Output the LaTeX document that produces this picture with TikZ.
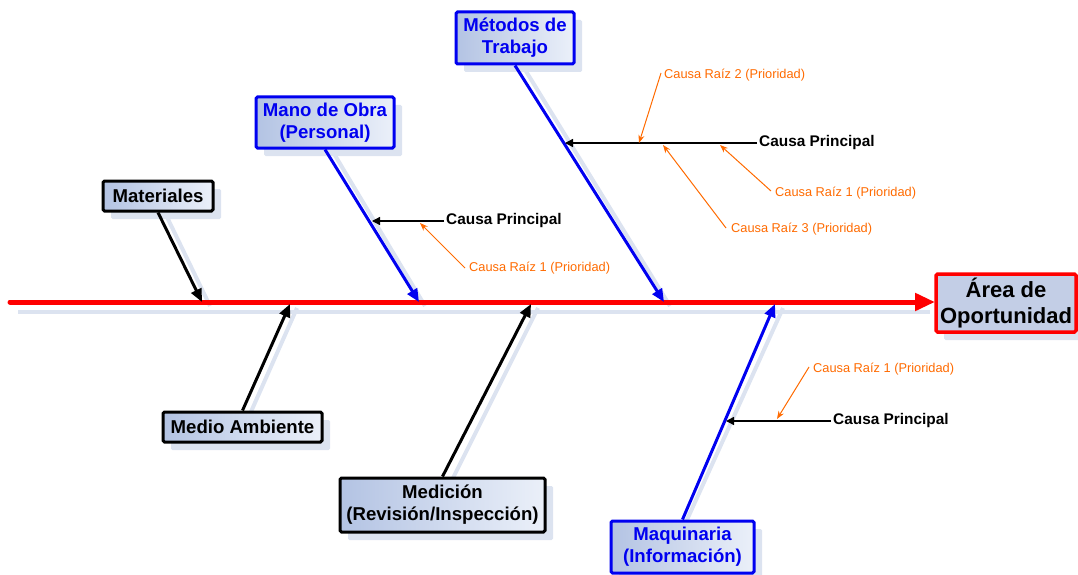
\documentclass[tikz,border=0pt]{standalone}
\usepackage{fontspec}
\setmainfont{Liberation Sans}
\usetikzlibrary{arrows.meta,shadows}
\definecolor{shd}{HTML}{DCE3F0}
\definecolor{boxL}{HTML}{B3C3E3}
\definecolor{boxR}{HTML}{EBF0F9}
\definecolor{areaF}{HTML}{C3CEE6}
\definecolor{org}{HTML}{FF6A00}
\definecolor{bblue}{HTML}{0000F0}
\tikzset{
  catbox/.style={draw, line width=3pt, rounded corners=1.5pt, left color=boxL, right color=boxR,
     font=\bfseries\fontsize{18.6}{22}\selectfont, align=center, inner sep=0pt,
     drop shadow={shadow xshift=8pt, shadow yshift=-8pt, fill=shd, opacity=1}},
  bluebox/.style={catbox, draw=bblue, text=bblue},
  blackbox/.style={catbox, draw=black, text=black},
  bone/.style={line width=3pt, -{Triangle[length=13pt,width=11pt]}},
  boneshd/.style={line width=4pt, draw=shd},
  causa/.style={font=\bfseries\fontsize{15.4}{17}\selectfont, anchor=west, inner sep=2pt},
  causarr/.style={line width=1.3pt, -{Triangle[length=8pt,width=8pt]}},
  raiz/.style={font=\fontsize{12.8}{14}\selectfont, text=org, anchor=west, inner sep=1pt},
  raizarr/.style={draw=org, line width=1pt, -{Stealth[length=8pt,width=6pt]}},
}
\begin{document}
\begin{tikzpicture}[x=1pt,y=-1pt]
\useasboundingbox (0,0) rectangle (1078,575);
% spine coordinates
\coordinate (s0) at (10,302);
\coordinate (sEnd) at (935,302);
\coordinate (s1) at (202,302);
\coordinate (s2) at (419,302);
\coordinate (s3) at (664,302);
\coordinate (s4) at (290,304);
\coordinate (s5) at (531,304);
\coordinate (s6) at (775,304);
% shadows of spine and bones
\draw[boneshd] (18,312) -- (930,312);
\draw[boneshd] (166,215) -- (210,306);
\draw[boneshd] (333,152) -- (425,306);
\draw[boneshd] (524,68) -- (670,306);
\draw[boneshd] (250,414) -- (297,308);
\draw[boneshd] (452,480) -- (538,308);
\draw[boneshd] (686,522) -- (783,308);
% boxes
\node[bluebox, minimum width=118pt, minimum height=52pt] (met) at (515,38) {Métodos de\\Trabajo};
\node[bluebox, minimum width=138pt, minimum height=51pt] (mano) at (325,122.5) {Mano de Obra\\(Personal)};
\node[blackbox, minimum width=110pt, minimum height=30pt] (mat) at (158,196) {Materiales};
\node[blackbox, minimum width=159pt, minimum height=30pt] (medio) at (242.5,427) {Medio Ambiente};
\node[blackbox, minimum width=205pt, minimum height=54pt] (medic) at (442.5,505) {Medición\\(Revisión/Inspección)};
\node[bluebox, minimum width=143pt, minimum height=52pt] (maq) at (682.5,547) {Maquinaria\\(Información)};
\node[catbox, draw=red, fill=areaF, left color=areaF, right color=areaF, line width=3.5pt,
      font=\bfseries\fontsize{22}{26.5}\selectfont, minimum width=140pt, minimum height=58pt] (area) at (1006,303) {Área de\\Oportunidad};
% spine
\draw[red, line width=5pt, line cap=round, -{Triangle[length=20pt,width=17pt]}] (s0) -- (sEnd);
% bones
\draw[bone, black] (mat.south) -- (s1);
\draw[bone, bblue] (mano.south) -- (s2);
\draw[bone, bblue] (met.south) -- (s3);
\draw[bone, black] (medio.north) -- (s4);
\draw[bone, black] (medic.north) -- (s5);
\draw[bone, bblue] (maq.north) -- (s6);
% causes - Metodos
\coordinate (c1) at (565,143);
\node[causa] (cp1) at (757,143) {Causa Principal};
\draw[causarr] (cp1.west) -- (c1);
\node[raiz] (r12) at (663,75) {Causa Raíz 2 (Prioridad)};
\node[raiz] (r11) at (774,193) {Causa Raíz 1 (Prioridad)};
\node[raiz] (r13) at (730,229) {Causa Raíz 3 (Prioridad)};
\coordinate (t12) at (639,143);
\coordinate (t11) at (720,145);
\coordinate (t13) at (663,145);
\draw[raizarr] ([xshift=-2pt,yshift=2pt]r12.west) -- (t12);
\draw[raizarr] ([xshift=-3pt,yshift=2pt]r11.west) -- (t11);
\draw[raizarr] ([xshift=-4pt,yshift=1pt]r13.west) -- (t13);
% causes - Mano de Obra
\coordinate (c2) at (372,221);
\node[causa] (cp2) at (444,221) {Causa Principal};
\draw[causarr] (cp2.west) -- (c2);
\node[raiz] (r21) at (468,268) {Causa Raíz 1 (Prioridad)};
\coordinate (t21) at (420,223);
\draw[raizarr] ([xshift=-3pt]r21.west) -- (t21);
% causes - Maquinaria
\coordinate (c3) at (726,421);
\node[causa] (cp3) at (831,421) {Causa Principal};
\draw[causarr] (cp3.west) -- (c3);
\node[raiz] (r31) at (812,369) {Causa Raíz 1 (Prioridad)};
\coordinate (t31) at (777,419);
\draw[raizarr] ([xshift=-3pt,yshift=2pt]r31.west) -- (t31);
\end{tikzpicture}
\end{document}
